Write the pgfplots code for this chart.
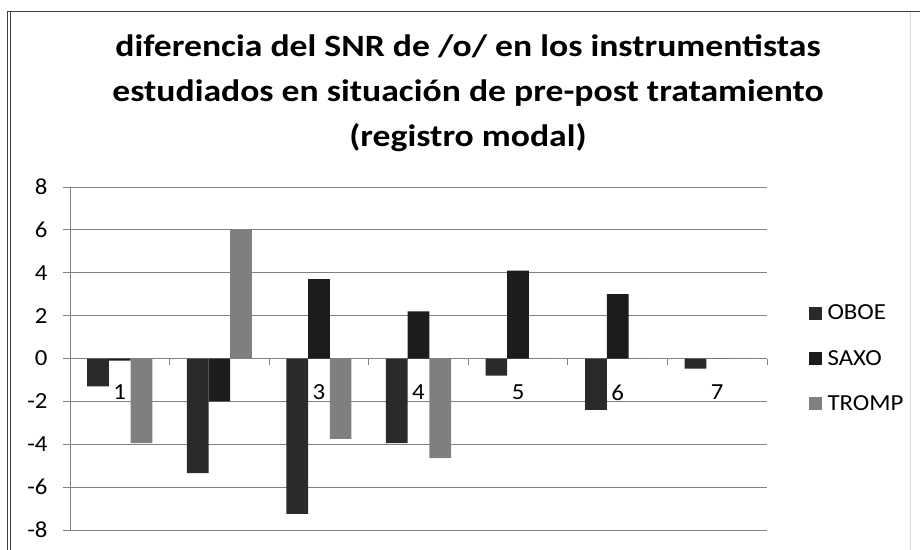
\documentclass[border=0pt]{standalone}
\usepackage{pgfplots}
\pgfplotsset{compat=1.18}
\usepackage{fontspec}
\setmainfont{Carlito}
\newfontfamily\titlefont{Carlito}[FakeStretch=1.15]
\newfontfamily\labelfont{Carlito}[FakeStretch=1.08]
\definecolor{oboe}{HTML}{2A2A2A}
\definecolor{saxo}{HTML}{1C1C1C}
\definecolor{tromp}{HTML}{7F7F7F}
\definecolor{gridc}{HTML}{808080}
\begin{document}
\begin{tikzpicture}[x=1pt,y=1pt]
\useasboundingbox (0,0) rectangle (920,549);
% frame
\draw[black!75, line width=1pt] (7,-2) -- (7,537) -- (921,537);
\draw[black!75, line width=1pt] (10,-2) -- (10,537);
\draw[black!15, line width=0.8pt] (910,537) -- (910,-2);
% title
\node[anchor=base, font=\titlefont\fontsize{31}{35}\selectfont\bfseries] at (468,492) {diferencia del SNR de /o/ en los instrumentistas};
\node[anchor=base, font=\titlefont\fontsize{31}{35}\selectfont\bfseries] at (468,447) {estudiados en situación de pre-post tratamiento};
\node[anchor=base, font=\titlefont\fontsize{31}{35}\selectfont\bfseries] at (468,402) {(registro modal)};
\begin{axis}[
  at={(70pt,19pt)}, anchor=south west,
  scale only axis, width=697pt, height=343pt,
  xmin=0.5, xmax=7.5, ymin=-8, ymax=8,
  ybar=0pt, bar width=21.7pt,
  axis y line*=left, axis x line*=middle,
  axis line style={gridc, line width=0.9pt, -},
  ytick={-8,-6,...,8},
  yticklabels={-8,-6,-4,-2,0,2,4,6,8},
  ymajorgrids, major grid style={gridc, line width=0.9pt},
  xtick={1,...,7},
  xticklabels={1,2,3,4,5,6,7},
  minor xtick={1.5,2.5,3.5,4.5,5.5,6.5,7.5},
  major x tick style={draw=none},
  minor x tick style={gridc, line width=0.8pt},
  major y tick style={gridc, line width=0.9pt},
  tick align=outside, major tick length=7pt, minor tick length=6pt,
  ticklabel style={font=\labelfont\fontsize{23}{27}\selectfont},
  yticklabel style={xshift=-12pt},
  xticklabel style={anchor=center, yshift=-27pt},
  legend style={at={(1.055,0.5)}, anchor=west, draw=none, fill=none,
    font=\labelfont\fontsize{23}{27}\selectfont, row sep=25pt,
    legend cell align=left},
  legend image code/.code={\fill[#1,draw=none] (0pt,-6.5pt) rectangle (13pt,6.5pt); \path (17pt,0pt);},
]
\addplot[fill=oboe, draw=none] coordinates {(1,-1.3) (2,-5.35) (3,-7.25) (4,-3.95) (5,-0.8) (6,-2.4) (7,-0.47)};
\addplot[fill=saxo, draw=none] coordinates {(1,-0.1) (2,-2.0) (3,3.7) (4,2.2) (5,4.1) (6,3.0) (7,0)};
\addplot[fill=tromp, draw=none] coordinates {(1,-3.95) (2,6.0) (3,-3.75) (4,-4.65) (5,0) (6,0) (7,0)};
\legend{OBOE,SAXO,TROMP}
\end{axis}
\end{tikzpicture}
\end{document}
